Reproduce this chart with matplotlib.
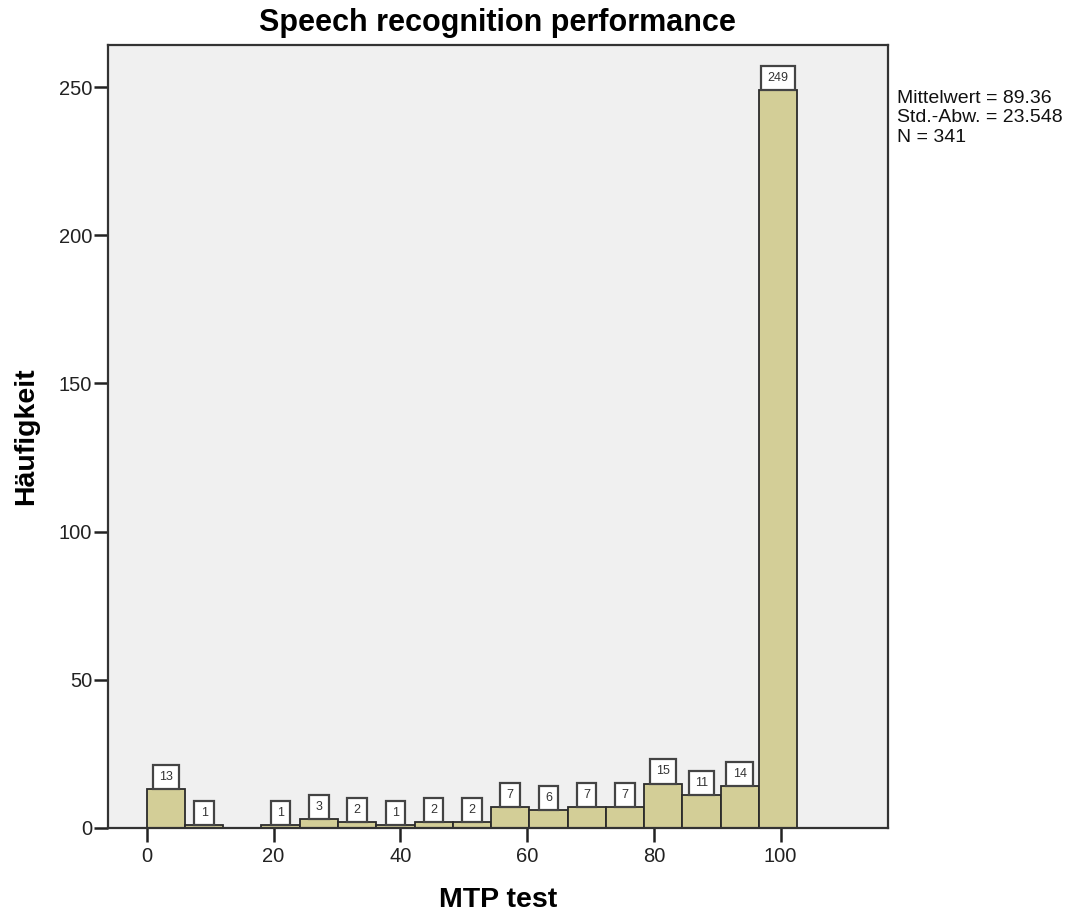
import numpy as np
import matplotlib
matplotlib.use("Agg")
import matplotlib.pyplot as plt

plt.rcParams['font.family'] = ['Liberation Sans', 'DejaVu Sans']

# histogram counts per bin (SPSS bins of ~6.04 units starting at 0)
counts = [13, 1, 0, 1, 3, 2, 1, 2, 2, 7, 6, 7, 7, 15, 11, 14, 249]
bin_start = 0.0
bin_width = 6.035
stats_lines = ["Mittelwert = 89.36", "Std.-Abw. = 23.548", "N = 341"]
xticks = [0, 20, 40, 60, 80, 100]
yticks = [0, 50, 100, 150, 200, 250]

edges = bin_start + bin_width * np.arange(len(counts) + 1)

fig = plt.figure(figsize=(10.88, 9.16), dpi=100)
ax = fig.add_axes([0.0993, 0.0961, 0.816 - 0.0993, 0.9509 - 0.0961])
ax.set_facecolor('#F0F0F0')

ax.bar(edges[:-1], counts, width=bin_width, align='edge',
       color='#D3CE97', edgecolor='#2B2B2B', linewidth=1.3, zorder=2)

# value labels in white boxes sitting on the bars
for left, c in zip(edges[:-1], counts):
    if c == 0:
        continue
    ax.annotate(str(c), (left + bin_width / 2, c), xytext=(0, 4.5),
                textcoords='offset points', ha='center', va='bottom',
                fontsize=9, color='#333333', zorder=3,
                bbox=dict(boxstyle='square,pad=0.5', fc='white',
                          ec='#444444', lw=1.6))

ax.set_xlim(-6.1, 116.9)
ax.set_ylim(0, 264.2)
ax.set_xticks(xticks)
ax.set_yticks(yticks)
ax.tick_params(direction='out', length=10, width=1.8, labelsize=14.5,
               colors='#222222')
ax.tick_params(axis='y', pad=1.5)
ax.tick_params(axis='x', pad=4)
for s in ax.spines.values():
    s.set_color('#333333')
    s.set_linewidth(1.6)

ax.set_title('Speech recognition performance', fontsize=22, fontweight='bold', pad=10)
ax.set_xlabel('MTP test', fontsize=20.5, fontweight='bold', labelpad=15)
ax.set_ylabel('Häufigkeit', fontsize=20.5, fontweight='bold', labelpad=14)

fig.text(0.824, 0.902, "\n".join(stats_lines), fontsize=14, va='top',
         ha='left', linespacing=1.2, color='#111111')

fig.savefig('out.png', dpi=100, facecolor='white')
